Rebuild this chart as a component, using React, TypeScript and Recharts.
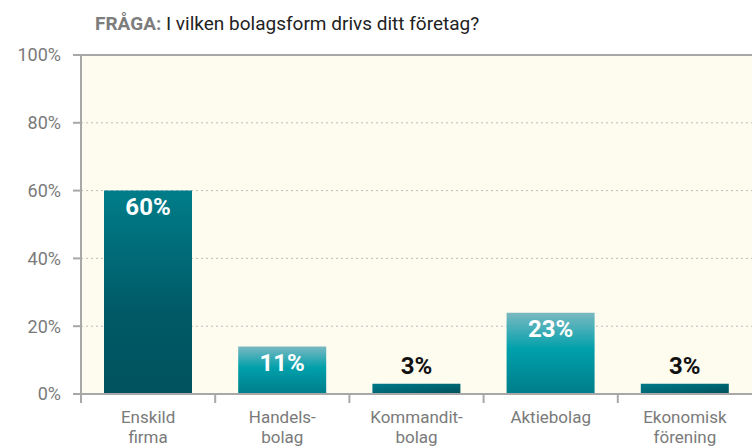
import { BarChart, Bar, XAxis, YAxis, CartesianGrid, ReferenceLine, LabelList, Cell } from "recharts";

const categories = ["Enskild\nfirma", "Handels-\nbolag", "Kommandit-\nbolag", "Aktiebolag", "Ekonomisk\nförening"];
const values = [60, 14, 3, 24, 3];
const valueLabels = ["60%", "11%", "3%", "23%", "3%"];
const yTicks = [0, 20, 40, 60, 80, 100];

const data = categories.map((name, i) => ({ name, value: values[i], label: valueLabels[i] }));

const W = 752;
const H = 446;
const LEFT = 81;
const BOTTOM = 394;
const BAND = (W - LEFT) / categories.length;
const FILLS = ["url(#gDark)", "url(#gLight)", "url(#gFlat)", "url(#gLight)", "url(#gFlat)"];

const XTick = (props: any) => {
  const { x, payload } = props;
  const lines = String(payload.value).split("\n");
  const bx = x - BAND / 2;
  return (
    <g>
      <line x1={bx} y1={BOTTOM} x2={bx} y2={BOTTOM + 9} stroke="#a8a8a8" strokeWidth={2} />
      {lines.map((t, i) => (
        <text key={i} x={x} y={BOTTOM + 29 + i * 20} textAnchor="middle" fill="#7a7a7a" fontSize={17}>
          {t}
        </text>
      ))}
    </g>
  );
};

const BarLabel = (props: any) => {
  const { x, y, width, value, index } = props;
  const inside = values[index] >= 10;
  return (
    <text
      x={x + width / 2}
      y={inside ? y + 24 : y - 10}
      textAnchor="middle"
      fill={inside ? "#ffffff" : "#111111"}
      fontSize={24}
      fontWeight="bold"
    >
      {value}
    </text>
  );
};

const App = () => {
  return (
    <div style={{ position: "absolute", left: 0, top: 0, width: W, height: H, fontFamily: "Roboto", background: "#fff" }}>
      <div style={{ position: "absolute", left: 95, top: 14, fontSize: 19, lineHeight: "19px", whiteSpace: "nowrap", color: "#222" }}>
        <span style={{ fontWeight: "bold", color: "#7d7d7d" }}>FRÅGA:</span> I vilken bolagsform drivs ditt företag?
      </div>
      <BarChart width={W} height={H} data={data} margin={{ top: 55, right: 0, left: 0, bottom: 0 }} barSize={88}>
        <defs>
          <linearGradient id="gDark" x1="0" y1="0" x2="0" y2="1">
            <stop offset="0%" stopColor="#007d8a" />
            <stop offset="60%" stopColor="#005a66" />
            <stop offset="100%" stopColor="#00525e" />
          </linearGradient>
          <linearGradient id="gLight" x1="0" y1="0" x2="0" y2="1">
            <stop offset="0%" stopColor="#7ab9c1" />
            <stop offset="45%" stopColor="#00a0ab" />
            <stop offset="100%" stopColor="#007d8a" />
          </linearGradient>
          <linearGradient id="gFlat" x1="0" y1="0" x2="1" y2="1">
            <stop offset="0%" stopColor="#007888" />
            <stop offset="55%" stopColor="#006571" />
            <stop offset="100%" stopColor="#004f5a" />
          </linearGradient>
        </defs>
        <CartesianGrid vertical={false} stroke="#bdbdbd" strokeDasharray="2 3" fill="#fefbef" />
        <YAxis
          width={LEFT}
          domain={[0, 100]}
          ticks={yTicks}
          tickFormatter={(v) => `${v}%`}
          axisLine={{ stroke: "#a8a8a8", strokeWidth: 2 }}
          tickLine={{ stroke: "#a8a8a8", strokeWidth: 2 }}
          tickSize={8}
          tickMargin={12}
          tick={{ fill: "#7a7a7a", fontSize: 18 }}
        />
        <XAxis
          dataKey="name"
          height={52}
          interval={0}
          axisLine={{ stroke: "#a8a8a8", strokeWidth: 2 }}
          tickLine={false}
          tick={<XTick />}
        />
        <ReferenceLine y={100} stroke="#a8a8a8" strokeWidth={2} />
        <Bar dataKey="value" isAnimationActive={false}>
          {data.map((d, i) => (
            <Cell key={d.name} fill={FILLS[i]} />
          ))}
          <LabelList dataKey="label" content={<BarLabel />} />
        </Bar>
      </BarChart>
    </div>
  );
};

export default App;
